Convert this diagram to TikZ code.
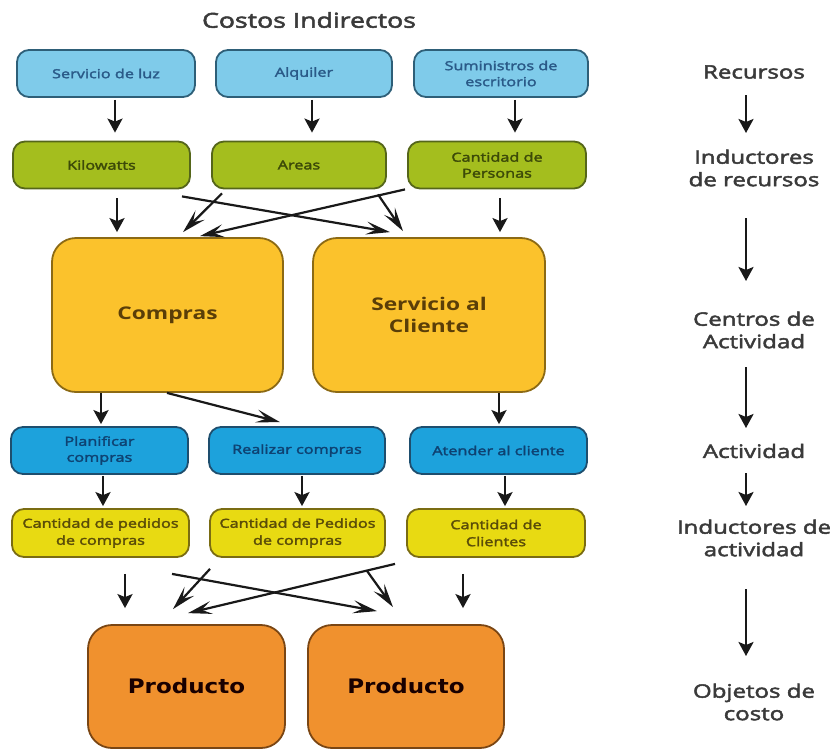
\documentclass[tikz,border=0pt]{standalone}
\usepackage{fontspec}
\setmainfont{Open Sans}[FakeStretch=1.3]
\newfontfamily\labelfont{Open Sans}[FakeStretch=1.3,FakeBold=2.5]
\newfontfamily\heavyfont{DejaVu Sans}[FakeStretch=1.15]
\usetikzlibrary{calc,arrows.meta}

\definecolor{skyfill}{HTML}{7FCBEA}
\definecolor{skyline}{HTML}{2E5F78}
\definecolor{skytext}{HTML}{2A5A88}
\definecolor{leaffill}{HTML}{A4BE1E}
\definecolor{leafline}{HTML}{55661A}
\definecolor{leaftext}{HTML}{3C4A08}
\definecolor{goldfill}{HTML}{FBC22C}
\definecolor{goldline}{HTML}{8C6A14}
\definecolor{goldtext}{HTML}{5A3E08}
\definecolor{oceanfill}{HTML}{1DA2DC}
\definecolor{oceanline}{HTML}{1E4E6E}
\definecolor{oceantext}{HTML}{0E4272}
\definecolor{lemonfill}{HTML}{E8DA12}
\definecolor{lemonline}{HTML}{7A6C12}
\definecolor{lemontext}{HTML}{5A4C08}
\definecolor{rustfill}{HTML}{F0912E}
\definecolor{rustline}{HTML}{7A4614}
\definecolor{inktext}{HTML}{3A3A3A}

\tikzset{
  pill/.style={rounded corners=12pt, line width=1.8pt, align=center,
    inner sep=0pt, minimum height=47pt,
    font=\fontsize{12.5}{16}\selectfont\labelfont},
  resbox/.style={pill, fill=skyfill, draw=skyline, text=skytext},
  drvbox/.style={pill, fill=leaffill, draw=leafline, text=leaftext},
  actbox/.style={pill, fill=oceanfill, draw=oceanline, text=oceantext},
  adrvbox/.style={pill, fill=lemonfill, draw=lemonline, text=lemontext,
    minimum height=48pt, font=\fontsize{12.5}{17}\selectfont\labelfont},
  centerbox/.style={rounded corners=24pt, line width=1.8pt, align=center,
    inner sep=0pt, minimum height=154pt, fill=goldfill, draw=goldline,
    text=goldtext, font=\fontsize{17.5}{22}\selectfont\bfseries},
  prodbox/.style={rounded corners=24pt, line width=1.8pt, align=center,
    inner sep=0pt, minimum height=123pt, fill=rustfill, draw=rustline,
    text=black!90!red, font=\fontsize{20}{24}\selectfont\heavyfont\bfseries},
  sidetext/.style={align=center, inner sep=0pt, text=inktext,
    font=\fontsize{18.5}{22.5}\selectfont\labelfont},
  arr/.style={draw=black!90, line width=2.4pt,
    -{Stealth[length=14pt,width=15pt,inset=3pt]}},
  xarr/.style={draw=black!90, line width=2.2pt,
    -{Stealth[length=24pt,width=13pt,inset=10pt]}},
}

\begin{document}
\begin{tikzpicture}[x=1pt,y=-1pt]
  \useasboundingbox[fill=white] (0,0) rectangle (830,753);

  % heading
  \node[text=inktext, font=\fontsize{20.5}{24}\selectfont\labelfont] (title) at (309,20) {Costos Indirectos};

  % resources
  \node[resbox, minimum width=178pt] (luz) at (106,73.5) {Servicio de luz};
  \node[resbox, minimum width=176pt] (alq) at (304,73.5) {Alquiler};
  \node[resbox, minimum width=174pt] (sum) at (501,73.5) {Suministros de\\escritorio};

  % resource drivers
  \node[drvbox, minimum width=177pt] (kw) at (101.5,165) {Kilowatts};
  \node[drvbox, minimum width=174pt] (areas) at (299,165) {Areas};
  \node[drvbox, minimum width=178pt] (pers) at (497,165) {Cantidad de\\Personas};

  % activity centres
  \node[centerbox, minimum width=231pt] (compras) at (167.5,315) {Compras};
  \node[centerbox, minimum width=232pt] (servicio) at (429,315) {Servicio al\\Cliente};

  % activities
  \node[actbox, minimum width=177pt] (plan) at (99.5,450.5) {Planificar\\compras};
  \node[actbox, minimum width=176pt] (realizar) at (297,450.5) {Realizar compras};
  \node[actbox, minimum width=177pt] (atender) at (498.5,450.5) {Atender al cliente};

  % activity drivers
  \node[adrvbox, minimum width=177pt] (pedA) at (100.5,533) {Cantidad de pedidos\\de compras};
  \node[adrvbox, minimum width=175pt] (pedB) at (297.5,533) {Cantidad de Pedidos\\de compras};
  \node[adrvbox, minimum width=178pt] (clientes) at (496,533) {Cantidad de\\Clientes};

  % cost objects
  \node[prodbox, minimum width=197pt] (prodA) at (186.5,686.5) {Producto};
  \node[prodbox, minimum width=196pt] (prodB) at (406,686.5) {Producto};

  % resources -> resource drivers
  \draw[arr] ($(luz.south)+(9,2)$) -- ($(kw.north)+(13.5,-8)$);
  \draw[arr] ($(alq.south)+(8,2)$) -- ($(areas.north)+(13,-8)$);
  \draw[arr] ($(sum.south)+(14,2)$) -- ($(pers.north)+(18,-8)$);

  % resource drivers -> activity centres
  \draw[arr] ($(kw.south)+(15.5,9)$) -- ($(compras.north)+(-50.5,-5)$);
  \draw[arr] ($(pers.south)+(3,9)$) -- ($(servicio.north)+(71,-5)$);
  \draw[xarr] ($(kw.south)+(80.5,7)$) -- ($(servicio.north)+(-39,-5)$);
  \draw[xarr] ($(areas.south)+(-77,4)$) -- ($(compras.north)+(15.5,-5)$);
  \draw[xarr] ($(pers.south)+(-92,0)$) -- ($(compras.north)+(32.5,-1)$);
  \draw[xarr] ($(areas.south)+(79,5)$) -- ($(servicio.north)+(-26,-6)$);

  % activity centres -> activities
  \draw[arr] ($(compras.south)+(-66.5,0)$) -- ($(plan.north)+(1.5,-2)$);
  \draw[xarr] ($(compras.south)+(-0.5,0)$) -- ($(realizar.north)+(-17,-4)$);
  \draw[arr] ($(servicio.south)+(70,0)$) -- ($(atender.north)+(0.5,-2)$);

  % activities -> activity drivers
  \draw[arr] ($(plan.south)+(3.5,1)$) -- ($(pedA.north)+(2.5,-2)$);
  \draw[arr] ($(realizar.south)+(5,1)$) -- ($(pedB.north)+(4.5,-2)$);
  \draw[arr] ($(atender.south)+(6.5,1)$) -- ($(clientes.north)+(9,-2)$);

  % activity drivers -> cost objects
  \draw[arr] ($(pedA.south)+(24.5,16)$) -- ($(prodA.north)+(-61.5,-16)$);
  \draw[arr] ($(clientes.south)+(-33,16)$) -- ($(prodB.north)+(57,-16)$);
  \draw[xarr] ($(pedA.south)+(71.5,16)$) -- ($(prodB.north)+(-29,-13)$);
  \draw[xarr] ($(pedB.south)+(-87.5,11)$) -- ($(prodA.north)+(-13.5,-15)$);
  \draw[xarr] ($(clientes.south)+(-101,6)$) -- ($(prodA.north)+(1.5,-11)$);
  \draw[xarr] ($(pedB.south)+(69.5,13)$) -- ($(prodB.north)+(-13,-17)$);

  % legend column
  \node[sidetext] (rec) at (754,72) {Recursos};
  \node[sidetext] (indrec) at (754,168) {Inductores\\de recursos};
  \node[sidetext] (centros) at (754,330) {Centros de\\Actividad};
  \node[sidetext] (act) at (754,451) {Actividad};
  \node[sidetext] (indact) at (754,538) {Inductores de\\actividad};
  \node[sidetext] (obj) at (754,702) {Objetos de\\costo};

  \draw[arr] ($(rec)+(-8,23)$) -- ($(indrec)+(-8,-35)$);
  \draw[arr] ($(indrec)+(-8,50)$) -- ($(centros)+(-8,-49)$);
  \draw[arr] ($(centros)+(-8,37)$) -- ($(act)+(-8,-23)$);
  \draw[arr] ($(act)+(-8,22)$) -- ($(indact)+(-8,-32)$);
  \draw[arr] ($(indact)+(-8,51)$) -- ($(obj)+(-8,-46)$);
\end{tikzpicture}
\end{document}
